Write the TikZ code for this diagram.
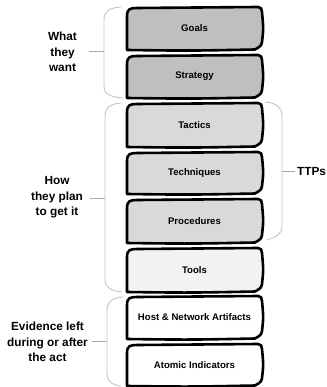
\documentclass[tikz,border=0pt]{standalone}
\usepackage{fontspec}
\setmainfont{Liberation Sans}
\definecolor{darkfill}{HTML}{BFBFBF}
\definecolor{midfill}{HTML}{D9D9D9}
\definecolor{lightfill}{HTML}{F2F2F2}
\definecolor{bracegray}{HTML}{C4C4C4}
\definecolor{stubgray}{HTML}{A8A8A8}
\tikzset{
  boxline/.style={line width=2.6pt, line join=round, draw=black},
  boxtext/.style={font=\fontsize{9.6}{11}\selectfont\bfseries, text=black},
  lbl/.style={font=\fontsize{11.8}{15.5}\selectfont\bfseries, align=center, text=black},
  bracel/.style={draw=bracegray, line width=0.9pt},
  stubl/.style={draw=stubgray, line width=1pt},
}
\newcommand{\layerbox}[5]{%
  \draw[boxline, fill=#4] (127,{#3}) -- (127,{#2+9})
    .. controls (127,{#2+2}) and (130,{#2+1}) .. (137,{#2+1})
    -- (258,{#2})
    .. controls (261,{#2}) and (262,{#2+2}) .. (262,{#2+5})
    .. controls (263.5,{(#2+#3)/2}) .. (262,{#3-8})
    .. controls (261,{#3-4}) .. (255,{#3-0.5})
    .. controls (190,{#3+0.8}) .. (127,{#3}) -- cycle;
  \node[boxtext] (#1) at (194.5,{(#2+#3)/2}) {#5};
}
\begin{document}
\begin{tikzpicture}[x=1pt,y=-1pt]
\useasboundingbox (0,0) rectangle (326,387);
\fill[white] (0,0) rectangle (326,387);
% boxes
\layerbox{goals}{7}{50}{darkfill}{Goals}
\layerbox{strategy}{55}{98}{darkfill}{Strategy}
\layerbox{tactics}{103}{147}{midfill}{Tactics}
\layerbox{techniques}{152}{194}{midfill}{Techniques}
\layerbox{procedures}{199}{243}{midfill}{Procedures}
\layerbox{tools}{248}{292}{lightfill}{Tools}
\layerbox{host}{296}{339}{white}{Host \& Network Artifacts}
\layerbox{atomic}{344}{386}{white}{Atomic Indicators}
% left braces
\draw[bracel] (121,7) .. controls (109,8) and (104,11) .. (104,20) -- (104,86)
  .. controls (104,94) and (110,97) .. (123,98);
\coordinate (b1) at (104,52);
\draw[stubl] (89,52) -- (b1);
\draw[bracel] (121,103) .. controls (109,104) and (105,108) .. (105,117) -- (105,279)
  .. controls (105,287) and (110,291) .. (122,292);
\coordinate (b2) at (105,198);
\draw[stubl] (90,198) -- (b2);
\draw[bracel] (123,297) .. controls (111,298) and (107,302) .. (107,311) -- (107,374)
  .. controls (107,381) and (112,385) .. (121,386);
\coordinate (b3) at (107,341);
\draw[stubl] (92,341) -- (b3);
% right brace
\draw[bracel] (265,102) .. controls (276,103) and (282,107) .. (282,116) -- (282,227)
  .. controls (282,234) and (276,237) .. (267,240);
\coordinate (b4) at (282,171);
\draw[stubl] (b4) -- (295,171);
% labels
\node[lbl] (want) at (62.5,52) {What\\they\\want};
\node[lbl] (plan) at (57,197.5) {How\\they plan\\to get it};
\node[lbl] (evidence) at (47.5,342) {Evidence left\\during or after\\the act};
\node[lbl, anchor=west, inner sep=0pt] (ttps) at (297,171) {TTPs};
\end{tikzpicture}
\end{document}
